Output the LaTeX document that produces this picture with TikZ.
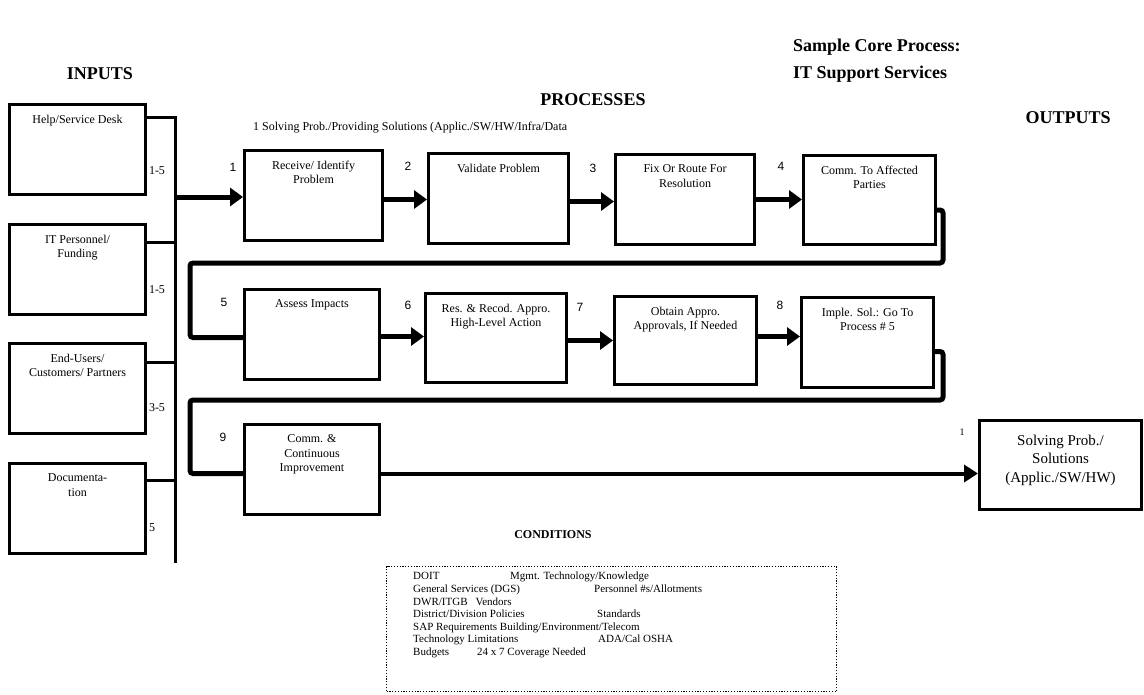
\documentclass[tikz,border=0pt]{standalone}
\usepackage{fontspec}
\setmainfont{Liberation Serif}
\newfontfamily\numfont{Liberation Sans}
\usetikzlibrary{arrows.meta}

\begin{document}
\begin{tikzpicture}[x=1pt,y=-1pt,
  every node/.style={inner sep=0pt},
  inbox/.style={draw,line width=3pt,anchor=north west,minimum width=136pt,minimum height=90pt},
  pbox/.style 2 args={draw,line width=3pt,anchor=north west,minimum width=#1,minimum height=#2},
  boxtxt/.style={anchor=north,align=center,font=\fontsize{12}{14.5}\selectfont},
  outtxt/.style={anchor=north,align=center,font=\fontsize{15}{18.5}\selectfont},
  numtxt/.style={font=\numfont\fontsize{12}{14}\selectfont},
  tagtxt/.style={font=\fontsize{12}{14}\selectfont},
  head/.style={font=\bfseries\fontsize{18}{22}\selectfont},
  feed/.style={line width=3pt},
  flow/.style={line width=5pt,-{Triangle[length=13pt,width=18pt]}},
  longflow/.style={line width=4pt,-{Triangle[length=14pt,width=17pt]}},
  route/.style={line width=5pt,rounded corners=3pt},
  condbox/.style={draw,line width=1.2pt,dash pattern=on 1.2pt off 1.6pt,anchor=north west,minimum width=450pt,minimum height=125pt},
]
\useasboundingbox (0,0) rectangle (1144,694);

% ---------- headings ----------
\node[font=\bfseries\fontsize{18}{27}\selectfont,align=left,anchor=north west] (title) at (793,38.5)
  {Sample Core Process:\\IT Support Services};
\node[head] (hin)   at (100,74) {INPUTS};
\node[head] (hproc) at (593,100) {PROCESSES};
\node[head] (hout)  at (1068,118) {OUTPUTS};
\node[tagtxt,anchor=west] (sub) at (253,128)
  {1 Solving Prob./Providing Solutions (Applic./SW/HW/Infra/Data};

% ---------- inputs ----------
\node[inbox] (in1) at (8,103) {};
\node[inbox] (in2) at (8,223) {};
\node[inbox] (in3) at (8,342) {};
\node[inbox] (in4) at (8,462) {};
\node[boxtxt] (in1t) at ([yshift=-11.5pt]in1.north) {Help/Service Desk};
\node[boxtxt] (in2t) at ([yshift=-11.5pt]in2.north) {IT Personnel/\\Funding};
\node[boxtxt] (in3t) at ([yshift=-11.5pt]in3.north) {End-Users/\\Customers/ Partners};
\node[boxtxt] (in4t) at ([yshift=-11.5pt]in4.north) {Documenta-\\tion};
\node[tagtxt] (g1) at (157,171) {1-5};
\node[tagtxt] (g2) at (157,290) {1-5};
\node[tagtxt] (g3) at (157,408) {3-5};
\node[tagtxt] (g4) at (152,528) {5};

% input bus
\coordinate (busend) at (175,563);
\draw[feed] ([yshift=-14pt]in1.north east) -| (busend);
\draw[feed] ([yshift=-19pt]in2.north east) -| (busend);
\draw[feed] ([yshift=-20pt]in3.north east) -| (busend);
\draw[feed] ([yshift=-18pt]in4.north east) -| (busend);

% ---------- process boxes ----------
\node[pbox={138pt}{90pt}] (p1) at (243,149) {};
\node[pbox={140pt}{90pt}] (p2) at (427,152) {};
\node[pbox={139pt}{90pt}] (p3) at (614,153) {};
\node[pbox={132pt}{89pt}] (p4) at (802,154) {};
\node[pbox={135pt}{90pt}] (p5) at (243,288) {};
\node[pbox={141pt}{89pt}] (p6) at (424,292) {};
\node[pbox={142pt}{88pt}] (p7) at (613,295) {};
\node[pbox={132pt}{90pt}] (p8) at (800,296) {};
\node[pbox={135pt}{90pt}] (p9) at (243,423) {};
\node[pbox={162pt}{89pt}] (out) at (978,419) {};

\node[boxtxt] (p1t) at ([yshift=-11.5pt]p1.north) {Receive/ Identify\\Problem};
\node[boxtxt] (p2t) at ([yshift=-11.5pt]p2.north) {Validate Problem};
\node[boxtxt] (p3t) at ([yshift=-11.5pt]p3.north) {Fix Or Route For\\Resolution};
\node[boxtxt] (p4t) at ([yshift=-11.5pt]p4.north) {Comm. To Affected\\Parties};
\node[boxtxt] (p5t) at ([yshift=-11.5pt]p5.north) {Assess Impacts};
\node[boxtxt] (p6t) at ([yshift=-11.5pt]p6.north) {Res. \& Recod. Appro.\\High-Level Action};
\node[boxtxt] (p7t) at ([yshift=-11.5pt]p7.north) {Obtain Appro.\\Approvals, If Needed};
\node[boxtxt] (p8t) at ([yshift=-11.5pt]p8.north) {Imple. Sol.: Go To\\Process \# 5};
\node[boxtxt] (p9t) at ([yshift=-11.5pt]p9.north) {Comm. \&\\Continuous\\Improvement};
\node[outtxt] (outt) at ([yshift=-15.5pt]out.north) {Solving Prob./\\Solutions\\(Applic./SW/HW)};

% step numbers
\node[numtxt] (n1) at (233,167) {1};
\node[numtxt] (n2) at (408,166) {2};
\node[numtxt] (n3) at (593,168) {3};
\node[numtxt] (n4) at (781,166) {4};
\node[numtxt] (n5) at (224,302) {5};
\node[numtxt] (n6) at (408,305) {6};
\node[numtxt] (n7) at (580,307) {7};
\node[numtxt] (n8) at (780,305) {8};
\node[numtxt] (n9) at (223,437) {9};
\node[font=\fontsize{10}{12}\selectfont] (no1) at (962,432) {1};

% ---------- flow ----------
\coordinate (tap) at (175,197);
\draw[flow] (tap) -- (tap -| p1.west);
\coordinate (a12) at ([yshift=-4pt]p1.east);
\draw[flow] (a12) -- (a12 -| p2.west);
\coordinate (a23) at ([yshift=-3pt]p2.east);
\draw[flow] (a23) -- (a23 -| p3.west);
\coordinate (a34) at (p3.east);
\draw[flow] (a34) -- (a34 -| p4.west);

\coordinate (r1) at (943,263);
\coordinate (l1) at (190,263);
\draw[route] ([yshift=-10pt]p4.east) -| (r1) -- (l1) |- ([yshift=-3pt]p5.west);

\coordinate (a56) at ([yshift=-2pt]p5.east);
\draw[flow] (a56) -- (a56 -| p6.west);
\coordinate (a67) at ([yshift=-2.5pt]p6.east);
\draw[flow] (a67) -- (a67 -| p7.west);
\coordinate (a78) at ([yshift=4pt]p7.east);
\draw[flow] (a78) -- (a78 -| p8.west);

\coordinate (r2) at (943,400);
\coordinate (l2) at (190,400);
\draw[route] ([yshift=-9pt]p8.east) -| (r2) -- (l2) |- ([yshift=-4pt]p9.west);

\coordinate (a9o) at ([yshift=-4pt]p9.east);
\draw[longflow] (a9o) -- (a9o -| out.west);

% ---------- conditions ----------
\node[font=\bfseries\fontsize{12}{14}\selectfont] (cond) at (553,535) {CONDITIONS};
\node[condbox] (cbox) at (386,566) {};
\node[anchor=north west,align=left,font=\fontsize{11}{12.6}\selectfont] (clist) at (413,572)
  {\makebox[97pt][l]{DOIT}Mgmt. Technology/Knowledge\\
   \makebox[181pt][l]{General Services (DGS)}Personnel \#s/Allotments\\
   DWR/ITGB\hspace{8pt}Vendors\\
   \makebox[184pt][l]{District/Division Policies}Standards\\
   SAP Requirements Building/Environment/Telecom\\
   \makebox[185pt][l]{Technology Limitations}ADA/Cal OSHA\\
   \makebox[64pt][l]{Budgets}24 x 7 Coverage Needed};
\end{tikzpicture}
\end{document}
